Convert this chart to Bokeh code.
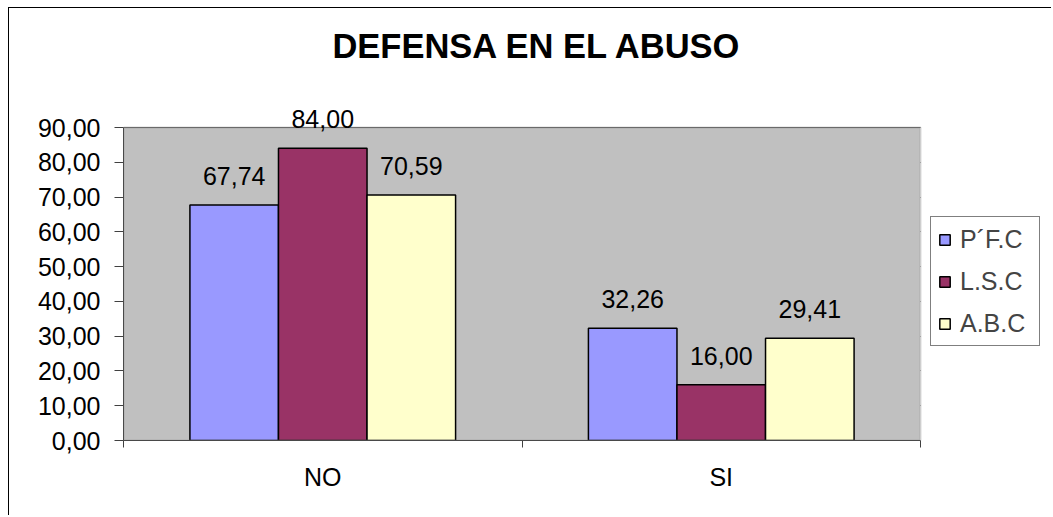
from bokeh.plotting import figure
from bokeh.models import (ColumnDataSource, Range1d, FixedTicker, LabelSet, Legend,
                          LegendItem, Label, BoxAnnotation)
from bokeh.core.properties import value
from bokeh.transform import dodge
from bokeh.embed import file_html
from bokeh.resources import INLINE

categories = ["NO", "SI"]
series_names = ["P´F.C", "L.S.C", "A.B.C"]
pfc = [67.74, 32.26]
lsc = [84.00, 16.00]
abc = [70.59, 29.41]
y_ticks = [0, 10, 20, 30, 40, 50, 60, 70, 80, 90]
colors = ["#9999FF", "#993366", "#FFFFCC"]
title_text = "DEFENSA EN EL ABUSO"

FONT = "Liberation Sans"
FS = "25px"

# layout geometry (page pixels)
OX, OY = 9, 8                      # content origin (inside 1px border)
W, H = 1043, 508
PLOT_L, PLOT_R, PLOT_T, PLOT_B = 123, 920, 127, 440
FRAME_T, FRAME_R = OY, OX + W
Y_MAX = 90
n = len(categories)
y_end = Y_MAX * (PLOT_B - FRAME_T) / (PLOT_B - PLOT_T)
x_end = n * (FRAME_R - PLOT_L) / (PLOT_R - PLOT_L)

xpos = [i + 0.5 for i in range(n)]
src = ColumnDataSource(dict(
    x=xpos, cat=categories,
    pfc=pfc, lsc=lsc, abc=abc,
    pfc_l=[f"{v:.2f}".replace(".", ",") for v in pfc],
    lsc_l=[f"{v:.2f}".replace(".", ",") for v in lsc],
    abc_l=[f"{v:.2f}".replace(".", ",") for v in abc],
))

p = figure(width=W, height=H, output_backend="svg", toolbar_location=None,
           x_range=Range1d(0, x_end), y_range=Range1d(0, y_end),
           min_border_left=PLOT_L - OX, min_border_right=0,
           min_border_top=0, min_border_bottom=OY + H - PLOT_B)
p.styles = {"border-left": "1px solid black", "border-top": "1px solid black",
            "margin-left": "8px", "margin-top": "7px"}
p.background_fill_color = "white"
p.border_fill_color = "white"
p.outline_line_color = None

# gray plot area
p.add_layout(BoxAnnotation(left=0, right=n, bottom=0, top=Y_MAX, fill_color="#C0C0C0",
                           fill_alpha=1, line_color=None, level="underlay"))
# hide grid lines to the right of the plot area
p.add_layout(BoxAnnotation(left=n, right=x_end, bottom=-1, top=Y_MAX + 1, fill_color="white",
                           fill_alpha=1, line_color=None, level="glyph"))
# plot area border
p.add_layout(BoxAnnotation(left=0, right=n, bottom=0, top=Y_MAX, fill_color=None,
                           line_color="#808080", line_width=2, level="annotation"))

bw = 1 / 4.5
renderers = []
for key, off, col in zip(["pfc", "lsc", "abc"], [-bw, 0, bw], colors):
    r = p.vbar(x=dodge("x", off, range=p.x_range), top=key, width=bw, source=src,
               fill_color=col, line_color="black", line_width=1.5)
    renderers.append(r)
    lab = LabelSet(x=dodge("x", off, range=p.x_range), y=key, text=key + "_l", source=src,
                   text_align="center", text_baseline="alphabetic", y_offset=20,
                   text_font=value(FONT), text_font_size=value(FS), text_color="black")
    p.add_layout(lab)

# axes
p.xaxis.bounds = (0, n)
p.xaxis.ticker = FixedTicker(ticks=xpos, minor_ticks=list(range(n + 1)))
p.xaxis.major_label_overrides = {x: c for x, c in zip(xpos, categories)}
p.xaxis.major_tick_out = 0
p.xaxis.major_tick_in = 0
p.xaxis.minor_tick_out = 7
p.xaxis.minor_tick_in = 0
p.xaxis.minor_tick_line_color = "#404040"
p.xaxis.axis_line_color = "#404040"
p.xaxis.major_label_standoff = 15
p.xaxis.major_label_text_font = FONT
p.xaxis.major_label_text_font_size = FS
p.xaxis.major_label_text_color = "black"

p.yaxis.bounds = (0, Y_MAX)
p.yaxis.ticker = FixedTicker(ticks=y_ticks)
p.yaxis.major_label_overrides = {t: f"{t},00" for t in y_ticks}
p.yaxis.major_tick_out = 9
p.yaxis.major_tick_in = 0
p.yaxis.minor_tick_line_color = None
p.yaxis.major_tick_line_color = "#404040"
p.yaxis.axis_line_color = "#404040"
p.yaxis.major_label_standoff = 14
p.yaxis.major_label_text_font = FONT
p.yaxis.major_label_text_font_size = FS
p.yaxis.major_label_text_color = "black"

p.xgrid.grid_line_color = None
p.ygrid.grid_line_color = "black"
p.ygrid.grid_line_width = 1

# chart title
p.add_layout(Label(x=537 - PLOT_L, y=PLOT_B - 45, x_units="screen", y_units="screen",
                   text=title_text, text_align="center", text_baseline="alphabetic",
                   text_font=FONT, text_font_size="34.5px",
                   text_font_style="bold", text_color="black"))

legend = Legend(items=[LegendItem(label=nm, renderers=[r]) for nm, r in zip(series_names, renderers)],
                location=(930 - PLOT_L, PLOT_B - 346), border_line_color="black", border_line_width=1,
                label_text_font=FONT, label_text_font_size=FS,
                glyph_width=13, glyph_height=13, label_standoff=9, label_width=72,
                label_height=30, padding=7, spacing=12, margin=0,
                background_fill_color="white")
p.add_layout(legend, "center")

open("out.html", "w").write(file_html(p, INLINE))
